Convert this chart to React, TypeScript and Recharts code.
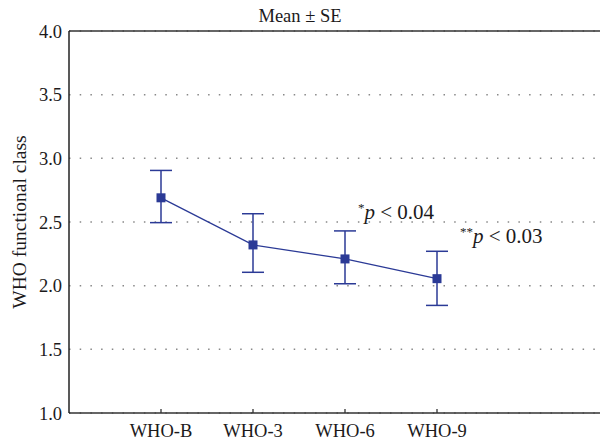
import { LineChart, Line, XAxis, YAxis, CartesianGrid, ErrorBar, LabelList } from 'recharts';

const categories = ['WHO-B', 'WHO-3', 'WHO-6', 'WHO-9'];
const means = [2.69, 2.32, 2.21, 2.055];
const upper = [2.905, 2.565, 2.43, 2.27];
const lower = [2.495, 2.105, 2.015, 1.845];
const notes = ['', '', '*p < 0.04', '**p < 0.03'];
const yTicks = [1.0, 1.5, 2.0, 2.5, 3.0, 3.5, 4.0];

const data = categories.map((name, i) => ({
  name,
  mean: means[i],
  err: [means[i] - lower[i], upper[i] - means[i]],
  note: notes[i],
}));

// label placement relative to each point
const noteOffset = [[0, 0], [0, 0], [13, -40], [23, -36]];

const BLUE = '#2b3a96';
const INK = '#1c1a1b';
const FONT = '"Liberation Serif", "DejaVu Serif", serif';

const Square = (props: any) => {
  const { cx, cy } = props;
  if (cx == null || cy == null) return null;
  return <rect x={cx - 4.5} y={cy - 4.5} width={9} height={9} fill={BLUE} />;
};

const renderNote = (props: any) => {
  const { x, y, value, index } = props;
  if (!value) return null;
  const stars = (value.match(/^\*+/) || [''])[0];
  const rest = value.slice(stars.length + 1);
  const [dx, dy] = noteOffset[index];
  return (
    <text x={x + dx} y={y + dy} fontFamily={FONT} fontSize={21} fill={INK} style={{ whiteSpace: 'pre' }}>
      <tspan fontSize={13} dy={-7}>{stars}</tspan>
      <tspan fontStyle="italic" dy={7}>p</tspan>
      <tspan>{rest}</tspan>
    </text>
  );
};

const yLabel = (props: any) => {
  const { viewBox } = props;
  const cx = viewBox.x + 22;
  const cy = viewBox.y + viewBox.height / 2;
  return (
    <text x={cx} y={cy} transform={`rotate(-90 ${cx} ${cy})`} textAnchor="middle" dominantBaseline="middle"
      fontFamily={FONT} fontSize={19.5} fill={INK}>
      WHO functional class
    </text>
  );
};

export default function App() {
  return (
    <div style={{ position: 'relative', width: 600, height: 442, background: '#fff' }}>
      <style>{'body{margin:0}'}</style>
      <div style={{ position: 'absolute', top: 5, left: 0, width: 600, textAlign: 'center', fontFamily: FONT, fontSize: 18.5, color: INK, lineHeight: '22px' }}>
        Mean ± SE
      </div>
      <LineChart width={600} height={442} data={data} margin={{ top: 0, right: 0, bottom: 0, left: 0 }}>
        <CartesianGrid horizontal vertical={false} stroke="#888" strokeWidth={1.5} strokeDasharray="1.5 9.2" />
        <XAxis
          xAxisId="top"
          orientation="top"
          dataKey="name"
          height={31}
          padding={{ left: 92, right: 163 }}
          tick={false}
          tickSize={-4}
          axisLine={{ stroke: '#333', strokeWidth: 1.3 }}
          tickLine={{ stroke: '#333', strokeWidth: 1.3 }}
        />
        <XAxis
          dataKey="name"
          height={29}
          padding={{ left: 92, right: 163 }}
          tickSize={-4}
          tickMargin={15}
          axisLine={{ stroke: '#333', strokeWidth: 1.3 }}
          tickLine={{ stroke: '#333', strokeWidth: 1.3 }}
          tick={{ fill: INK, fontSize: 18.5, fontFamily: FONT }}
        />
        <YAxis
          width={69}
          domain={[1, 4]}
          ticks={yTicks}
          tickFormatter={(v: number) => v.toFixed(1)}
          tickSize={0}
          tickMargin={7}
          tickLine={false}
          axisLine={{ stroke: '#222', strokeWidth: 1.5 }}
          tick={{ fill: INK, fontSize: 18.5, fontFamily: FONT }}
          label={yLabel}
        />
        <Line
          type="linear"
          dataKey="mean"
          stroke={BLUE}
          strokeWidth={1.3}
          dot={<Square />}
          activeDot={false}
          isAnimationActive={false}
        >
          <ErrorBar dataKey="err" direction="y" width={11} stroke={BLUE} strokeWidth={1.5} isAnimationActive={false} />
          <LabelList dataKey="note" content={renderNote} />
        </Line>
      </LineChart>
    </div>
  );
}
